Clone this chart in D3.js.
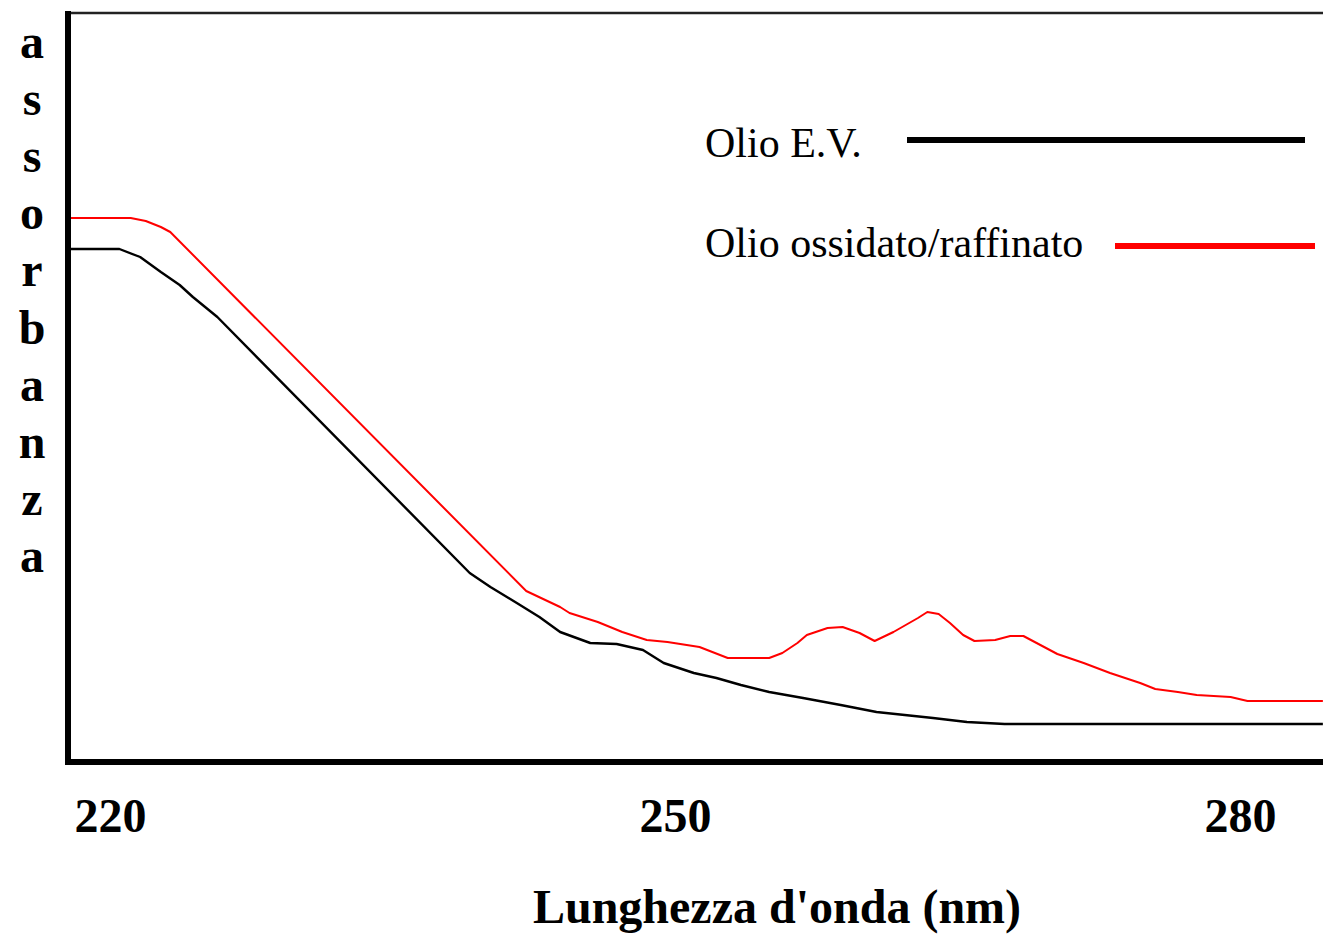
<!DOCTYPE html>
<html>
<head>
<meta charset="utf-8">
<script src="https://cdn.jsdelivr.net/npm/d3@7/dist/d3.min.js"></script>
<style>
  html, body { margin: 0; padding: 0; background: #fff; }
  svg { display: block; }
</style>
</head>
<body>
<svg id="chart" width="1323" height="935"></svg>
<script>
// ---- data (wavelength in nm, absorbance in arbitrary units) ----
const wavelengthEV = [217.8, 220.5, 221.6, 222.7, 223.7, 224.4, 225.7, 239.1, 240.2, 241.6, 242.8, 243.9, 245.5, 246.9, 248.3, 249.4, 251.0, 252.2, 253.5, 255.0, 256.8, 258.8, 260.7, 263.7, 265.5, 267.5, 284.4];
const absorbEV = [2.052, 2.052, 2.02, 1.96, 1.908, 1.86, 1.78, 0.756, 0.70, 0.636, 0.58, 0.52, 0.476, 0.472, 0.448, 0.396, 0.356, 0.336, 0.308, 0.28, 0.256, 0.228, 0.20, 0.176, 0.16, 0.152, 0.152];

const wavelengthOx = [217.8, 221.1, 221.9, 222.7, 223.2, 242.1, 243.9, 244.4, 245.9, 247.2, 248.5, 249.6, 251.3, 252.8, 255.0, 255.7, 256.5, 257.0, 258.1, 258.9, 259.8, 260.6, 261.6, 262.9, 263.4, 264.0, 264.6, 265.3, 265.9, 267.0, 267.8, 268.5, 269.2, 270.3, 271.7, 273.1, 274.7, 275.5, 276.7, 277.7, 279.5, 280.4, 284.4];
const absorbOx = [2.176, 2.176, 2.164, 2.14, 2.12, 0.684, 0.62, 0.596, 0.56, 0.52, 0.488, 0.48, 0.46, 0.416, 0.416, 0.436, 0.476, 0.508, 0.536, 0.54, 0.516, 0.484, 0.52, 0.576, 0.60, 0.592, 0.556, 0.508, 0.484, 0.488, 0.504, 0.504, 0.476, 0.432, 0.396, 0.356, 0.316, 0.292, 0.28, 0.268, 0.26, 0.244, 0.244];

const xTicks = [220, 250, 280];
const seriesNames = ["Olio E.V.", "Olio ossidato/raffinato"];
const seriesColors = ["#000000", "#ff0000"];
const yLabel = "assorbanza";
const xLabel = "Lunghezza d'onda (nm)";

// ---- layout ----
const svg = d3.select("#chart");
const plotLeft = 68, plotRight = 1323, plotTop = 13, plotBottom = 762;
const serif = "'Liberation Serif', 'Times New Roman', serif";

const x = d3.scaleLinear().domain([220, 280]).range([110, 1240]);
const y = d3.scaleLinear().domain([0, 3]).range([plotBottom, 12]);

// top border (thin)
svg.append("line")
  .attr("x1", plotLeft - 3).attr("x2", plotRight)
  .attr("y1", plotTop).attr("y2", plotTop)
  .attr("stroke", "#222").attr("stroke-width", 2.5);

// series
const line = d3.line().x(d => x(d[0])).y(d => y(d[1]));
const series = [
  d3.zip(wavelengthEV, absorbEV),
  d3.zip(wavelengthOx, absorbOx)
];
series.forEach((s, i) => {
  svg.append("path")
    .datum(s)
    .attr("fill", "none")
    .attr("stroke", seriesColors[i])
    .attr("stroke-width", i === 0 ? 2.4 : 2)
    .attr("stroke-linejoin", "round")
    .attr("d", line);
});

// x axis
const xAxis = d3.axisBottom(x)
  .tickValues(xTicks)
  .tickFormat(d3.format("d"))
  .tickSize(0)
  .tickSizeOuter(0)
  .tickPadding(36);
const gx = svg.append("g")
  .attr("transform", `translate(0,${plotBottom})`)
  .call(xAxis);
gx.select(".domain")
  .attr("d", `M${plotLeft - 3},0H${plotRight}`)
  .attr("stroke", "#000").attr("stroke-width", 6);
gx.selectAll("text")
  .attr("font-family", serif)
  .attr("font-weight", "bold")
  .attr("font-size", 48)
  .attr("fill", "#000");

// y axis (line only)
const yAxis = d3.axisLeft(y).tickValues([]).tickSizeOuter(0);
const gy = svg.append("g")
  .attr("transform", `translate(${plotLeft},0)`)
  .call(yAxis);
gy.select(".domain")
  .attr("d", `M0,${plotTop - 2}V${plotBottom + 3}`)
  .attr("stroke", "#000").attr("stroke-width", 6);

// y label: stacked letters
yLabel.split("").forEach((ch, i) => {
  svg.append("text")
    .attr("x", 32)
    .attr("y", 58 + i * 57.1)
    .attr("text-anchor", "middle")
    .attr("font-family", serif)
    .attr("font-weight", "bold")
    .attr("font-size", 48)
    .attr("fill", "#000")
    .text(ch);
});

// x label
svg.append("text")
  .attr("x", 777)
  .attr("y", 923)
  .attr("text-anchor", "middle")
  .attr("font-family", serif)
  .attr("font-weight", "bold")
  .attr("font-size", 48)
  .attr("fill", "#000")
  .text(xLabel);

// legend
const legend = [
  { name: seriesNames[0], color: seriesColors[0], ty: 157, ly: 140, x1: 907, x2: 1305 },
  { name: seriesNames[1], color: seriesColors[1], ty: 257, ly: 246, x1: 1115, x2: 1315 }
];
legend.forEach(l => {
  svg.append("text")
    .attr("x", 705).attr("y", l.ty)
    .attr("font-family", serif)
    .attr("font-size", 42)
    .attr("fill", "#000")
    .text(l.name);
  svg.append("line")
    .attr("x1", l.x1).attr("x2", l.x2)
    .attr("y1", l.ly).attr("y2", l.ly)
    .attr("stroke", l.color).attr("stroke-width", 6);
});
</script>
</body>
</html>
